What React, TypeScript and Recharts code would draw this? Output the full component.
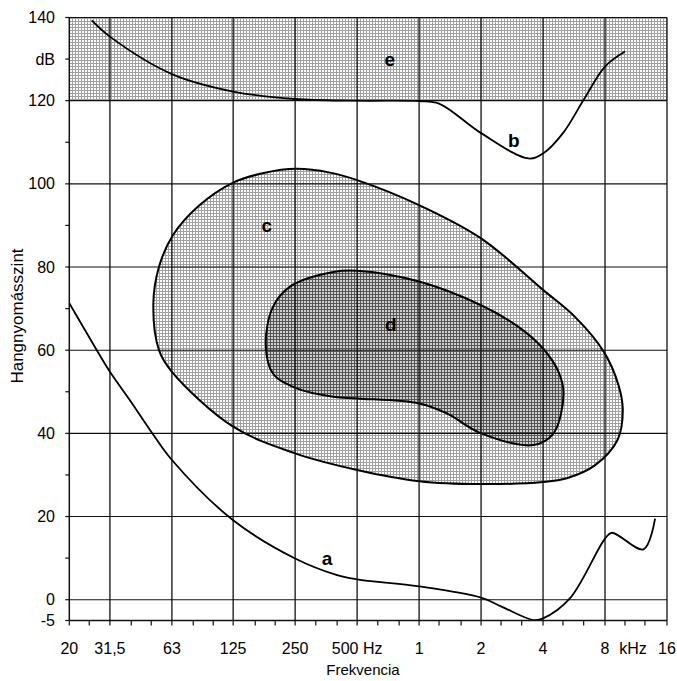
import React from 'react';
import {
  ScatterChart,
  Scatter,
  XAxis,
  YAxis,
  ReferenceLine,
  ReferenceArea,
} from 'recharts';

// ---- data -------------------------------------------------------------

// a: threshold of hearing
const thresholdFreq = [20, 27.2, 31.5, 40, 50, 63, 125, 250, 400, 500, 1000, 2000, 2500, 3600, 4000, 5400, 8000, 8630, 12300, 14000];
const thresholdDb = [71.3, 60, 54.8, 47.5, 40.4, 33.6, 19.1, 9.9, 5.9, 4.9, 3.2, 0.5, -1.6, -4.9, -4.5, 0.3, 14.7, 16.1, 12.1, 19.5];

// b: threshold of pain
const painFreq = [25.7, 31.5, 63, 125, 250, 500, 1000, 1250, 2000, 3400, 4000, 5000, 6300, 8000, 10000];
const painDb = [139.3, 135.4, 126.4, 122.2, 120.4, 120.0, 119.9, 119.3, 112.2, 106.1, 107.3, 112.2, 120.2, 128.2, 131.8];

// c: music region (closed outline, clockwise)
const musicFreq = [51.2, 54.5, 63.8, 86, 125, 176, 253, 369, 500, 1000, 2000, 4000, 5720, 7900, 9300, 9760, 9200, 7136, 5217, 4000, 2000, 1000, 500, 250, 125, 63, 54.5];
const musicDb = [71.3, 80, 87.7, 94.9, 100.3, 102.6, 103.6, 102.7, 100.9, 94.9, 86.9, 74.5, 68, 59.6, 51.6, 45.6, 38.4, 32.3, 29.2, 28.3, 27.8, 28.5, 31.2, 35.2, 41.6, 54.8, 60];

// d: speech region (closed outline, clockwise)
const speechFreq = [180, 195, 236, 383, 500, 1000, 2000, 3040, 4000, 4757, 5030, 4498, 3596, 2000, 1364, 1000, 500, 383, 254, 195];
const speechDb = [61.5, 70.4, 75.3, 78.8, 79.1, 76.5, 70.8, 65.6, 60.4, 54.8, 49.6, 40, 37.2, 40, 44.8, 47.2, 48.4, 48.8, 50.8, 54.4];

// e: band above 120 dB
const painBand = [120, 140];

// region letters
const letterText = ['a', 'b', 'c', 'd', 'e'];
const letterFreq = [357, 2886, 182, 729, 721];
const letterDb = [9.8, 110.5, 90.1, 66.1, 129.8];

// axes
const freqDomain = [20, 16000];
const dbDomain = [-5, 140];
const gridFreqs = [31.5, 63, 125, 250, 500, 1000, 2000, 4000, 8000, 16000];
const gridDb = [0, 20, 40, 60, 80, 100, 120, 140];
const xTickValues = [20, 25, 31.5, 40, 50, 63, 80, 100, 125, 160, 200, 250, 315, 400, 500, 630, 800, 1000, 1250, 1600, 2000, 2500, 3150, 4000, 5000, 6300, 8000, 10000, 10950, 12500, 16000];
const xTickLabels: Record<string, string> = {
  '20': '20', '31.5': '31,5', '63': '63', '125': '125', '250': '250', '500': '500 Hz',
  '1000': '1', '2000': '2', '4000': '4', '8000': '8', '10950': 'kHz', '16000': '16',
};
const yTickValues = [-5, 0, 10, 20, 30, 40, 50, 60, 70, 80, 90, 100, 110, 120, 130, 140];
const yTickLabels: Record<string, string> = {
  '-5': '-5', '0': '0', '20': '20', '40': '40', '60': '60', '80': '80',
  '100': '100', '120': '120', '130': 'dB', '140': '140',
};

const toPoints = (fs: number[], ds: number[]) => fs.map((f, i) => ({ f, db: ds[i] }));
const thresholdData = toPoints(thresholdFreq, thresholdDb);
const painData = toPoints(painFreq, painDb);
const musicData = toPoints(musicFreq, musicDb);
const speechData = toPoints(speechFreq, speechDb);
const letterData = letterText.map((t, i) => ({ f: letterFreq[i], db: letterDb[i], t }));

// ---- layout -----------------------------------------------------------

const W = 677;
const H = 681;
const PLOT_LEFT = 69.3;
const AXIS_Y = 620.5;
const FONT = '"Liberation Sans", Arial, Helvetica, sans-serif';
const INK = '#111';

type Pt = [number, number];

// centripetal Catmull-Rom spline as a d3 curve factory (open or closed)
function makeSpline(closed: boolean) {
  return function spline(context: any) {
    let pts: Pt[] = [];
    const dist = (a: Pt, b: Pt) => Math.hypot(a[0] - b[0], a[1] - b[1]);
    return {
      areaStart() {},
      areaEnd() {},
      lineStart() {
        pts = [];
      },
      point(x: number, y: number) {
        pts.push([+x, +y]);
      },
      lineEnd() {
        const n = pts.length;
        if (!n) return;
        context.moveTo(pts[0][0], pts[0][1]);
        const segs = closed ? n : n - 1;
        const at = (i: number): Pt => {
          if (closed) return pts[((i % n) + n) % n];
          return pts[Math.max(0, Math.min(n - 1, i))];
        };
        for (let i = 0; i < segs; i++) {
          const p0 = at(i - 1);
          const p1 = at(i);
          const p2 = at(i + 1);
          const p3 = at(i + 2);
          const l01a = Math.sqrt(dist(p0, p1));
          const l12a = Math.sqrt(dist(p1, p2));
          const l23a = Math.sqrt(dist(p2, p3));
          const l01 = l01a * l01a;
          const l12 = l12a * l12a;
          const l23 = l23a * l23a;
          let c1x = p1[0];
          let c1y = p1[1];
          let c2x = p2[0];
          let c2y = p2[1];
          if (l01a > 1e-9) {
            const a = 2 * l01 + 3 * l01a * l12a + l12;
            const m = 3 * l01a * (l01a + l12a);
            c1x = (p1[0] * a - p0[0] * l12 + p2[0] * l01) / m;
            c1y = (p1[1] * a - p0[1] * l12 + p2[1] * l01) / m;
          }
          if (l23a > 1e-9) {
            const b = 2 * l23 + 3 * l23a * l12a + l12;
            const m = 3 * l23a * (l23a + l12a);
            c2x = (p2[0] * b + p1[0] * l23 - p3[0] * l12) / m;
            c2y = (p2[1] * b + p1[1] * l23 - p3[1] * l12) / m;
          }
          context.bezierCurveTo(c1x, c1y, c2x, c2y, p2[0], p2[1]);
        }
        if (closed) context.closePath();
      },
    };
  };
}

const closedSpline = makeSpline(true);
const openSpline = makeSpline(false);

const NoDot = () => <g />;

const XTick = (props: any) => {
  const { x, payload } = props;
  const v = payload.value;
  const label = xTickLabels[String(v)];
  const isLabelOnly = v === 10950;
  return (
    <g>
      {!isLabelOnly && <line x1={x} x2={x} y1={AXIS_Y} y2={AXIS_Y + 5} stroke={INK} strokeWidth={1.2} />}
      {label && (
        <text x={x} y={648} textAnchor="middle" dominantBaseline="central" fontSize={16} fontFamily={FONT} fill="#000">
          {label}
        </text>
      )}
    </g>
  );
};

const YTick = (props: any) => {
  const { y, payload } = props;
  const label = yTickLabels[String(payload.value)];
  return (
    <g>
      <line x1={PLOT_LEFT - 4} x2={PLOT_LEFT} y1={y} y2={y} stroke={INK} strokeWidth={1.2} />
      {label && (
        <text x={55} y={y} textAnchor="end" dominantBaseline="central" fontSize={16} fontFamily={FONT} fill="#000">
          {label}
        </text>
      )}
    </g>
  );
};

const LetterShape = (props: any) => {
  const { cx, cy, payload } = props;
  return (
    <text x={cx} y={cy} textAnchor="middle" dominantBaseline="central" fontSize={19} fontWeight="bold" fontFamily={FONT} fill="#000">
      {payload.t}
    </text>
  );
};

export default function App() {
  return (
    <div style={{ position: 'absolute', left: 0, top: 0, width: W, height: H, background: '#fff' }}>
      <ScatterChart width={W} height={H} margin={{ top: 17.5, right: 10, bottom: 0.5, left: 9.3 }}>
        <defs>
          <pattern id="meshLight" width="3" height="3" patternUnits="userSpaceOnUse">
            <rect width="3" height="3" fill="#fff" />
            <rect x="0" y="0" width="3" height="1" fill="#a0a0a0" />
            <rect x="0" y="0" width="1" height="3" fill="#a0a0a0" />
          </pattern>
          <pattern id="meshDark" width="3" height="3" patternUnits="userSpaceOnUse">
            <rect width="3" height="3" fill="#d0d0d0" />
            <rect x="0" y="0" width="3" height="1" fill="#555" />
            <rect x="0" y="0" width="1" height="3" fill="#555" />
          </pattern>
        </defs>
        <XAxis
          type="number"
          dataKey="f"
          scale="log"
          domain={freqDomain}
          allowDataOverflow
          ticks={xTickValues}
          interval={0}
          tick={<XTick />}
          tickLine={false}
          axisLine={{ stroke: INK, strokeWidth: 1.5 }}
          height={60}
        />
        <YAxis
          type="number"
          dataKey="db"
          domain={dbDomain}
          allowDataOverflow
          ticks={yTickValues}
          interval={0}
          tick={<YTick />}
          tickLine={false}
          axisLine={{ stroke: INK, strokeWidth: 1.5 }}
          width={60}
        />
        <ReferenceArea
          x1={freqDomain[0]}
          x2={freqDomain[1]}
          y1={painBand[0]}
          y2={painBand[1]}
          fill="url(#meshLight)"
          fillOpacity={1}
          stroke="none"
          zIndex={10}
        />
        <Scatter
          data={musicData}
          dataKey="db"
          isAnimationActive={false}
          shape={<NoDot />}
          line={{ stroke: '#000', strokeWidth: 2, fill: 'url(#meshLight)' }}
          lineType="joint"
          lineJointType={closedSpline as any}
          zIndex={20}
        />
        <Scatter
          data={speechData}
          dataKey="db"
          isAnimationActive={false}
          shape={<NoDot />}
          line={{ stroke: '#000', strokeWidth: 2, fill: 'url(#meshDark)' }}
          lineType="joint"
          lineJointType={closedSpline as any}
          zIndex={30}
        />
        {gridFreqs.map((f) => (
          <ReferenceLine key={`gx${f}`} x={f} stroke={INK} strokeWidth={1.3} zIndex={40} />
        ))}
        {gridDb.map((d) => (
          <ReferenceLine key={`gy${d}`} y={d} stroke={INK} strokeWidth={1.1} zIndex={40} />
        ))}
        <Scatter
          data={thresholdData}
          dataKey="db"
          isAnimationActive={false}
          shape={<NoDot />}
          line={{ stroke: '#000', strokeWidth: 1.8, fill: 'none' }}
          lineType="joint"
          lineJointType={openSpline as any}
          zIndex={50}
        />
        <Scatter
          data={painData}
          dataKey="db"
          isAnimationActive={false}
          shape={<NoDot />}
          line={{ stroke: '#000', strokeWidth: 1.8, fill: 'none' }}
          lineType="joint"
          lineJointType={openSpline as any}
          zIndex={50}
        />
        <Scatter data={letterData} dataKey="db" isAnimationActive={false} shape={<LetterShape />} zIndex={60} />
        <text
          x={17}
          y={316}
          transform="rotate(-90 17 316)"
          textAnchor="middle"
          dominantBaseline="central"
          fontSize={17}
          fontFamily={FONT}
          fill="#000"
        >
          Hangnyomásszint
        </text>
        <text x={363} y={669} textAnchor="middle" dominantBaseline="central" fontSize={15} fontFamily={FONT} fill="#000">
          Frekvencia
        </text>
      </ScatterChart>
    </div>
  );
}
